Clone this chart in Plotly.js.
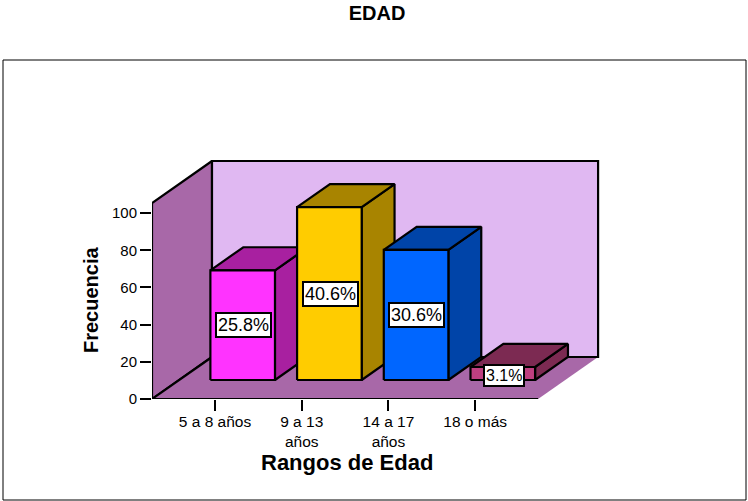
<!DOCTYPE html>
<html>
<head>
<meta charset="utf-8">
<script src="https://cdn.plot.ly/plotly-3.0.1.min.js"></script>
<style>
  body { margin: 0; background: #fff; }
</style>
</head>
<body>
<div id="plot" style="width:748px;height:501px"></div>
<script>
// datos
const categorias = ['5 a 8 años', '9 a 13<br>años', '14 a 17<br>años', '18 o más'];
const frecuencias = [59, 93, 70, 7];
const porcentajes = ['25.8%', '40.6%', '30.6%', '3.1%'];
const marcasY = [0, 20, 40, 60, 80, 100];
const coloresFrente = ['#ff33ff', '#ffcc00', '#0066ff', '#bf3f80'];
const coloresLado = ['#a820a0', '#a88400', '#0044a8', '#7c2a52'];

// proyeccion falsa 3D, en unidades de los ejes
const fondoX = 0.692, fondoY = 22.6;
const altoPared = 105.4;
const inicioBarra = 0.452;
const anchoBarra = 0.745;
const xMin = -0.727, xMax = 4.44, yMax = 130.15;
const colorPared = '#a868a8', colorFondo = '#e0b8f2';

// area del grafico en pixeles, para pasar a coordenadas paper
const anchoArea = 448, altoArea = 242;

const LINEA = { color: '#000', width: 2.2 };

function cara(xs, ys, relleno) {
  return {
    x: xs, y: ys, type: 'scatter', mode: 'lines', fill: 'toself', fillcolor: relleno,
    line: LINEA, hoverinfo: 'skip', showlegend: false, cliponaxis: false
  };
}

function linea(xs, ys) {
  return {
    x: xs, y: ys, type: 'scatter', mode: 'lines',
    line: LINEA, hoverinfo: 'skip', showlegend: false, cliponaxis: false
  };
}

// punto con profundidad d (0 = frente, 1 = pared del fondo)
function px(x, d) { return x + d * fondoX; }
function py(y, d) { return y + d * fondoY; }

const xFinPiso = 3.726;

const trazas = [
  // pared izquierda
  cara([px(xMin, 0), px(xMin, 1), px(xMin, 1), px(xMin, 0), px(xMin, 0)],
       [py(0, 0), py(0, 1), py(altoPared, 1), py(altoPared, 0), py(0, 0)], colorPared),
  // pared del fondo
  cara([px(xMin, 1), px(xFinPiso, 1), px(xFinPiso, 1), px(xMin, 1), px(xMin, 1)],
       [py(0, 1), py(0, 1), py(altoPared, 1), py(altoPared, 1), py(0, 1)], colorFondo),
  // piso
  {
    x: [px(xMin, 0), px(xFinPiso, 0), px(xFinPiso, 1), px(xMin, 1), px(xMin, 0)],
    y: [py(0, 0), py(0, 0), py(0, 1), py(0, 1), py(0, 0)],
    type: 'scatter', mode: 'lines', fill: 'toself', fillcolor: colorPared,
    line: { width: 0 }, hoverinfo: 'skip', showlegend: false
  },
  linea([px(xMin, 0), px(xFinPiso, 0)], [0, 0]),
  linea([px(xMin, 0), px(xMin, 1)], [py(0, 0), py(0, 1)]),
  linea([px(xMin, 1), px(xFinPiso, 1)], [py(0, 1), py(0, 1)])
];

frecuencias.forEach((v, i) => {
  const a = i - anchoBarra / 2 + 0.006, b = i + anchoBarra / 2 + 0.006;
  const d0 = inicioBarra, d1 = 1;
  const y0 = py(0, d0), y1 = py(v, d0);
  // lado
  trazas.push(cara(
    [px(b, d0), px(b, d1), px(b, d1), px(b, d0), px(b, d0)],
    [y0, py(0, d1), py(v, d1), y1, y0], coloresLado[i]));
  // tapa
  trazas.push(cara(
    [px(a, d0), px(a, d1), px(b, d1), px(b, d0), px(a, d0)],
    [y1, py(v, d1), py(v, d1), y1, y1], coloresLado[i]));
  // frente
  trazas.push(cara(
    [px(a, d0), px(b, d0), px(b, d0), px(a, d0), px(a, d0)],
    [y0, y0, y1, y1, y0], coloresFrente[i]));
});

const etiquetas = frecuencias.map((v, i) => ({
  x: px(i, inicioBarra) + 0.015,
  y: py(v / 2, inicioBarra) - (i === 3 ? 1 : 0),
  xref: 'x', yref: 'y',
  text: porcentajes[i],
  showarrow: false,
  bgcolor: '#fff',
  bordercolor: '#000',
  borderwidth: 2,
  borderpad: 1,
  font: { family: 'Liberation Sans', size: i === 3 ? 16 : 18, color: '#000' }
}));

// titulos de eje como anotaciones: en el original no estan centrados en el area
etiquetas.push({
  xref: 'paper', yref: 'paper',
  x: (347 - 152) / anchoArea, y: (399 - 462) / altoArea,
  xanchor: 'center', yanchor: 'middle',
  text: '<b>Rangos de Edad</b>', showarrow: false,
  font: { family: 'Liberation Sans', size: 22, color: '#000' }
});
etiquetas.push({
  xref: 'paper', yref: 'paper',
  x: (91 - 152) / anchoArea, y: (399 - 300) / altoArea,
  xanchor: 'center', yanchor: 'middle',
  text: '<b>Frecuencia</b>', showarrow: false, textangle: -90,
  font: { family: 'Liberation Sans', size: 20, color: '#000' }
});

const layout = {
  width: 748,
  height: 501,
  margin: { l: 152, r: 148, t: 157, b: 102 },
  paper_bgcolor: '#fff',
  plot_bgcolor: '#fff',
  font: { family: 'Liberation Sans', color: '#000' },
  title: {
    text: '<b>EDAD</b>',
    x: 377 / 748, xanchor: 'center',
    y: 1 - 13 / 501, yanchor: 'middle',
    font: { size: 20, family: 'Liberation Sans', color: '#000' }
  },
  xaxis: {
    range: [xMin, xMax],
    tickmode: 'array',
    tickvals: categorias.map((c, i) => i),
    ticktext: categorias,
    ticks: 'outside', ticklen: 11, tickwidth: 2, tickcolor: '#000',
    tickangle: 0,
    tickfont: { size: 15.5 },
    ticklabelstandoff: -3,
    showgrid: false, zeroline: false, showline: false
  },
  yaxis: {
    range: [0, yMax],
    tickmode: 'array',
    tickvals: marcasY,
    ticktext: marcasY.map(String),
    ticks: 'outside', ticklen: 11, tickwidth: 2, tickcolor: '#000',
    tickfont: { size: 15 },
    showgrid: false, zeroline: false, showline: false
  },
  annotations: etiquetas,
  shapes: [{
    type: 'rect', xref: 'paper', yref: 'paper',
    x0: (3 - 152) / anchoArea, x1: (746 - 152) / anchoArea,
    y0: (399 - 500) / altoArea, y1: (399 - 60) / altoArea,
    line: { color: '#000', width: 1 }, fillcolor: 'rgba(0,0,0,0)', layer: 'below'
  }]
};

Plotly.newPlot('plot', trazas, layout, { displayModeBar: false, staticPlot: true });
</script>
</body>
</html>
